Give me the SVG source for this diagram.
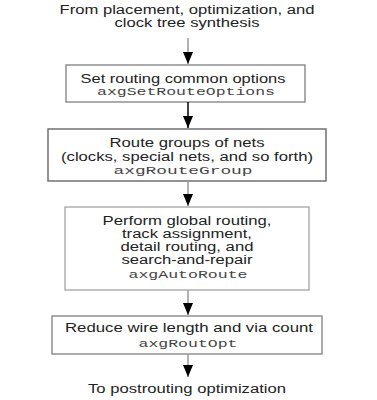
<svg xmlns="http://www.w3.org/2000/svg" width="377" height="400" viewBox="0 0 377 400">
<defs>
<marker id="ah" viewBox="0 -6 12 12" refX="12" refY="0" markerWidth="12" markerHeight="12" markerUnits="userSpaceOnUse" orient="auto">
<path d="M0,-5 L12,0 L0,5 z" fill="#000"/>
</marker>
<style>
.box{fill:#fff;stroke:#888;stroke-width:1.4}
.t{font-family:"Liberation Sans",Arial,sans-serif;font-size:12.5px;fill:#222;text-anchor:middle}
.c{font-family:"Liberation Mono","Courier New",monospace;font-size:10.5px;fill:#444;text-anchor:middle}
.ln{stroke:#999;stroke-width:1.5;fill:none;marker-end:url(#ah)}
</style>
</defs>
<rect width="377" height="400" fill="#fff"/>
<g id="start">
<text class="t" x="187" y="14" textLength="255" lengthAdjust="spacingAndGlyphs">From placement, optimization, and</text>
<text class="t" x="187" y="27" textLength="145" lengthAdjust="spacingAndGlyphs">clock tree synthesis</text>
</g>
<g id="n1">
<rect class="box" x="66" y="65" width="239" height="37"/>
<text class="t" x="183" y="83" textLength="205" lengthAdjust="spacingAndGlyphs">Set routing common options</text>
<text class="c" x="186" y="95" textLength="178" lengthAdjust="spacingAndGlyphs">axgSetRouteOptions</text>
</g>
<g id="n2">
<rect class="box" x="48" y="129" width="278" height="52" style="stroke:#666"/>
<text class="t" x="187" y="147" textLength="155" lengthAdjust="spacingAndGlyphs">Route groups of nets</text>
<text class="t" x="187" y="161" textLength="252" lengthAdjust="spacingAndGlyphs">(clocks, special nets, and so forth)</text>
<text class="c" x="183" y="174" textLength="139" lengthAdjust="spacingAndGlyphs">axgRouteGroup</text>
</g>
<g id="n3">
<rect class="box" x="65" y="207" width="244" height="83" style="stroke:#aaa"/>
<text class="t" x="187" y="225" textLength="169" lengthAdjust="spacingAndGlyphs">Perform global routing,</text>
<text class="t" x="187" y="238" textLength="130" lengthAdjust="spacingAndGlyphs">track assignment,</text>
<text class="t" x="187" y="251" textLength="133" lengthAdjust="spacingAndGlyphs">detail routing, and</text>
<text class="t" x="187" y="264" textLength="131" lengthAdjust="spacingAndGlyphs">search-and-repair</text>
<text class="c" x="188" y="278" textLength="119" lengthAdjust="spacingAndGlyphs">axgAutoRoute</text>
</g>
<g id="n4">
<rect class="box" x="52" y="316" width="270" height="38"/>
<text class="t" x="189" y="332" textLength="248" lengthAdjust="spacingAndGlyphs">Reduce wire length and via count</text>
<text class="c" x="188" y="347" textLength="99" lengthAdjust="spacingAndGlyphs">axgRoutOpt</text>
</g>
<g id="end">
<text class="t" x="187" y="393" textLength="198" lengthAdjust="spacingAndGlyphs">To postrouting optimization</text>
</g>
<g id="connectors">
<line class="ln" x1="188" y1="38" x2="188" y2="64"/>
<line class="ln" x1="188" y1="102" x2="188" y2="128" style="stroke:#000"/>
<line class="ln" x1="188" y1="181" x2="188" y2="206"/>
<line class="ln" x1="188" y1="290" x2="188" y2="315"/>
<line class="ln" x1="188" y1="354" x2="188" y2="377"/>
</g>
</svg>
